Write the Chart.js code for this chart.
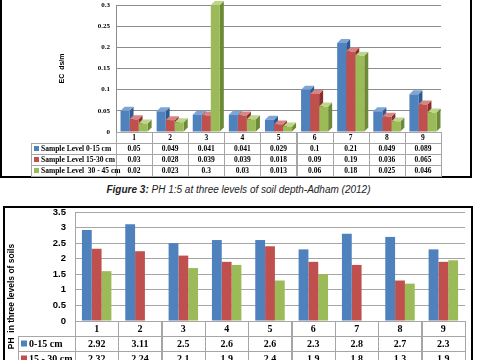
<!DOCTYPE html>
<html>
<head>
<meta charset="utf-8">
<script src="https://cdn.jsdelivr.net/npm/chart.js@4.4.0/dist/chart.umd.min.js"></script>
<style>
    body { margin: 0; width: 477px; height: 360px; overflow: hidden; background: #fff; position: relative; }
    #ecWrap { position: absolute; left: 0; top: 0; }
    #phWrap { position: absolute; left: 0; top: 206px; }
    .frame { position: absolute; border: 2px solid #000; box-sizing: border-box; pointer-events: none; }
    #caption { position: absolute; left: 0; width: 477px; top: 184px; text-align: center;
               font: italic 10px 'Liberation Sans', Arial, sans-serif; color: #222; }
</style>
</head>
<body>
<div class="frame" style="left:0;top:-4px;width:472px;height:182px"></div>
<div id="ecWrap"><canvas id="ecChart" width="477" height="180"></canvas></div>
<div id="caption"><b>Figure 3:</b> PH 1:5 at three levels of soil depth-Adham (2012)</div>
<div id="phWrap"><canvas id="phChart" width="477" height="200"></canvas></div>
<div class="frame" style="left:3px;top:206px;width:470px;height:200px"></div>

<script>
// sample numbers along the x axis
const samples = ['1', '2', '3', '4', '5', '6', '7', '8', '9'];

// EC (ds/m) at three depths
const ecLabels = ['Sample Level 0-15 cm', 'Sample Level 15-30 cm', 'Sample Level  30 - 45 cm'];
const ec0to15 = [0.05, 0.049, 0.041, 0.041, 0.029, 0.1, 0.21, 0.049, 0.089];
const ec15to30 = [0.03, 0.028, 0.039, 0.039, 0.018, 0.09, 0.19, 0.036, 0.065];
const ec30to45 = [0.02, 0.023, 0.3, 0.03, 0.013, 0.06, 0.18, 0.025, 0.046];
const ecTicks = [0, 0.05, 0.1, 0.15, 0.2, 0.25, 0.3];

// PH at three depths
const phLabels = ['0-15 cm', '15 - 30 cm', '30 - 45 cm'];
const ph0to15 = [2.92, 3.11, 2.5, 2.6, 2.6, 2.3, 2.8, 2.7, 2.3];
const ph15to30 = [2.32, 2.24, 2.1, 1.9, 2.4, 1.9, 1.8, 1.3, 1.9];
const ph30to45 = [1.6, 0, 1.7, 1.8, 1.3, 1.5, 0, 1.2, 1.95];
const phTicks = [0, 0.5, 1, 1.5, 2, 2.5, 3, 3.5];

const blue = '#4F81BD', red = '#C0504D', green = '#9BBB59';

Chart.defaults.animation = false;
Chart.defaults.plugins.legend.display = false;
Chart.defaults.plugins.tooltip.enabled = false;

// fixed y axis box, no extra label padding, so the plot area sits where the layout padding says
function fixAxis(width) {
    return axis => {
        axis.width = width;
        axis.paddingTop = 0;
        axis.paddingBottom = 0;
    };
}

// fake 3D look: side and top faces painted under the flat bars
const bar3d = {
    id: 'bar3d',
    beforeDatasetsDraw(chart, args, opts) {
        if (!opts.depth) return;
        const ctx = chart.ctx, d = opts.depth;
        ctx.save();
        chart.data.datasets.forEach((ds, i) => {
            chart.getDatasetMeta(i).data.forEach(bar => {
                const l = bar.x - bar.width / 2, r = bar.x + bar.width / 2;
                ctx.fillStyle = ds.sideColor;
                ctx.beginPath();
                ctx.moveTo(r, bar.y); ctx.lineTo(r + d, bar.y - d);
                ctx.lineTo(r + d, bar.base - d); ctx.lineTo(r, bar.base);
                ctx.fill();
                ctx.fillStyle = ds.topColor;
                ctx.beginPath();
                ctx.moveTo(l, bar.y); ctx.lineTo(l + d, bar.y - d);
                ctx.lineTo(r + d, bar.y - d); ctx.lineTo(r, bar.y);
                ctx.fill();
            });
        });
        ctx.restore();
    }
};

// data table under the plot, columns follow the x scale
const dataTable = {
    id: 'dataTable',
    afterDraw(chart, args, opts) {
        const ctx = chart.ctx, xs = chart.scales.x, area = chart.chartArea;
        const n = chart.data.labels.length;
        const colW = (area.right - area.left) / n;
        const h = opts.rowHeight;
        const px = v => Math.round(v) + 0.5;
        ctx.save();
        ctx.strokeStyle = opts.lineColor;
        ctx.lineWidth = 1;
        ctx.font = opts.font;
        ctx.textBaseline = 'middle';

        const rows = [{ values: chart.data.labels, header: true }]
            .concat(chart.data.datasets.map(ds => ({ values: ds.data, label: ds.label, color: ds.backgroundColor })));

        rows.forEach((row, r) => {
            const top = area.bottom + r * h;
            // value cells
            ctx.textAlign = 'center';
            ctx.fillStyle = '#000';
            row.values.forEach((v, i) => {
                const cx = xs.getPixelForValue(i);
                ctx.strokeRect(px(cx - colW / 2), px(top), Math.round(colW), h);
                ctx.fillText(String(v), cx, top + h / 2 + 0.5);
            });
            if (row.header) return;
            // legend cell
            const left = opts.legendLeft;
            ctx.strokeRect(px(left), px(top), Math.round(area.left - left), h);
            const k = opts.keySize;
            ctx.fillStyle = row.color;
            ctx.fillRect(left + 3, top + (h - k) / 2, k, k);
            ctx.fillStyle = '#000';
            ctx.textAlign = 'left';
            ctx.fillText(row.label, left + k + 5, top + h / 2 + 0.5);
        });

        if (opts.yTitle) {
            const rowsH = rows.length * h;
            ctx.translate(opts.yTitleX, (area.top + area.bottom + rowsH) / 2);
            ctx.rotate(-Math.PI / 2);
            ctx.font = opts.yTitleFont;
            ctx.textAlign = 'center';
            ctx.fillText(opts.yTitle, 0, 0);
        }
        ctx.restore();
    }
};

new Chart(document.getElementById('ecChart'), {
    type: 'bar',
    data: {
        labels: samples,
        datasets: [
            { label: ecLabels[0], data: ec0to15, backgroundColor: blue, sideColor: '#2F5B94', topColor: '#7FA5D6' },
            { label: ecLabels[1], data: ec15to30, backgroundColor: red, sideColor: '#8A2F2C', topColor: '#D98583' },
            { label: ecLabels[2], data: ec30to45, backgroundColor: green, sideColor: '#6D8A37', topColor: '#BDD68A' }
        ]
    },
    options: {
        responsive: false,
        layout: { padding: { left: 58, top: 5, right: 36, bottom: 48 } },
        categoryPercentage: 0.75,
        barPercentage: 1,
        scales: {
            x: { display: false },
            y: {
                min: 0, max: 0.3,
                afterBuildTicks: axis => { axis.ticks = ecTicks.map(v => ({ value: v })); },
                afterFit: fixAxis(58),
                grid: { color: '#8c8c8c', drawTicks: false },
                border: { color: '#8c8c8c' },
                ticks: { padding: 6, color: '#000', callback: v => String(v),
                         font: { family: 'Liberation Serif', weight: 'bold', size: 7 } },
                title: { display: true, text: 'EC  ds/m', color: '#000', padding: 0,
                         font: { family: 'Liberation Sans', weight: 'bold', size: 7 } }
            }
        },
        plugins: {
            bar3d: { depth: 4 },
            dataTable: { rowHeight: 11, legendLeft: 31, keySize: 5, lineColor: '#a6a6a6',
                         font: 'bold 7.5px "Liberation Serif"' }
        }
    },
    plugins: [bar3d, dataTable]
});

new Chart(document.getElementById('phChart'), {
    type: 'bar',
    data: {
        labels: samples,
        datasets: [
            { label: phLabels[0], data: ph0to15, backgroundColor: blue },
            { label: phLabels[1], data: ph15to30, backgroundColor: red },
            { label: phLabels[2], data: ph30to45, backgroundColor: green }
        ]
    },
    options: {
        responsive: false,
        layout: { padding: { left: 0, top: 6, right: 12, bottom: 85 } },
        categoryPercentage: 0.68,
        barPercentage: 1,
        scales: {
            x: { display: false },
            y: {
                min: 0, max: 3.5,
                afterBuildTicks: axis => { axis.ticks = phTicks.map(v => ({ value: v })); },
                afterFit: fixAxis(75),
                grid: { color: '#a6a6a6', drawTicks: false },
                border: { color: '#a6a6a6' },
                ticks: { padding: 9, color: '#000', callback: v => String(v),
                         font: { family: 'Liberation Sans', weight: 'bold', size: 9.5 } }
            }
        },
        plugins: {
            dataTable: { rowHeight: 15, legendLeft: 18, keySize: 6, lineColor: '#a6a6a6',
                         font: 'bold 10px "Liberation Serif"',
                         yTitle: 'PH  in three levels of soils', yTitleX: 12,
                         yTitleFont: 'bold 8.5px "Liberation Sans"' }
        }
    },
    plugins: [dataTable]
});
</script>
</body>
</html>
